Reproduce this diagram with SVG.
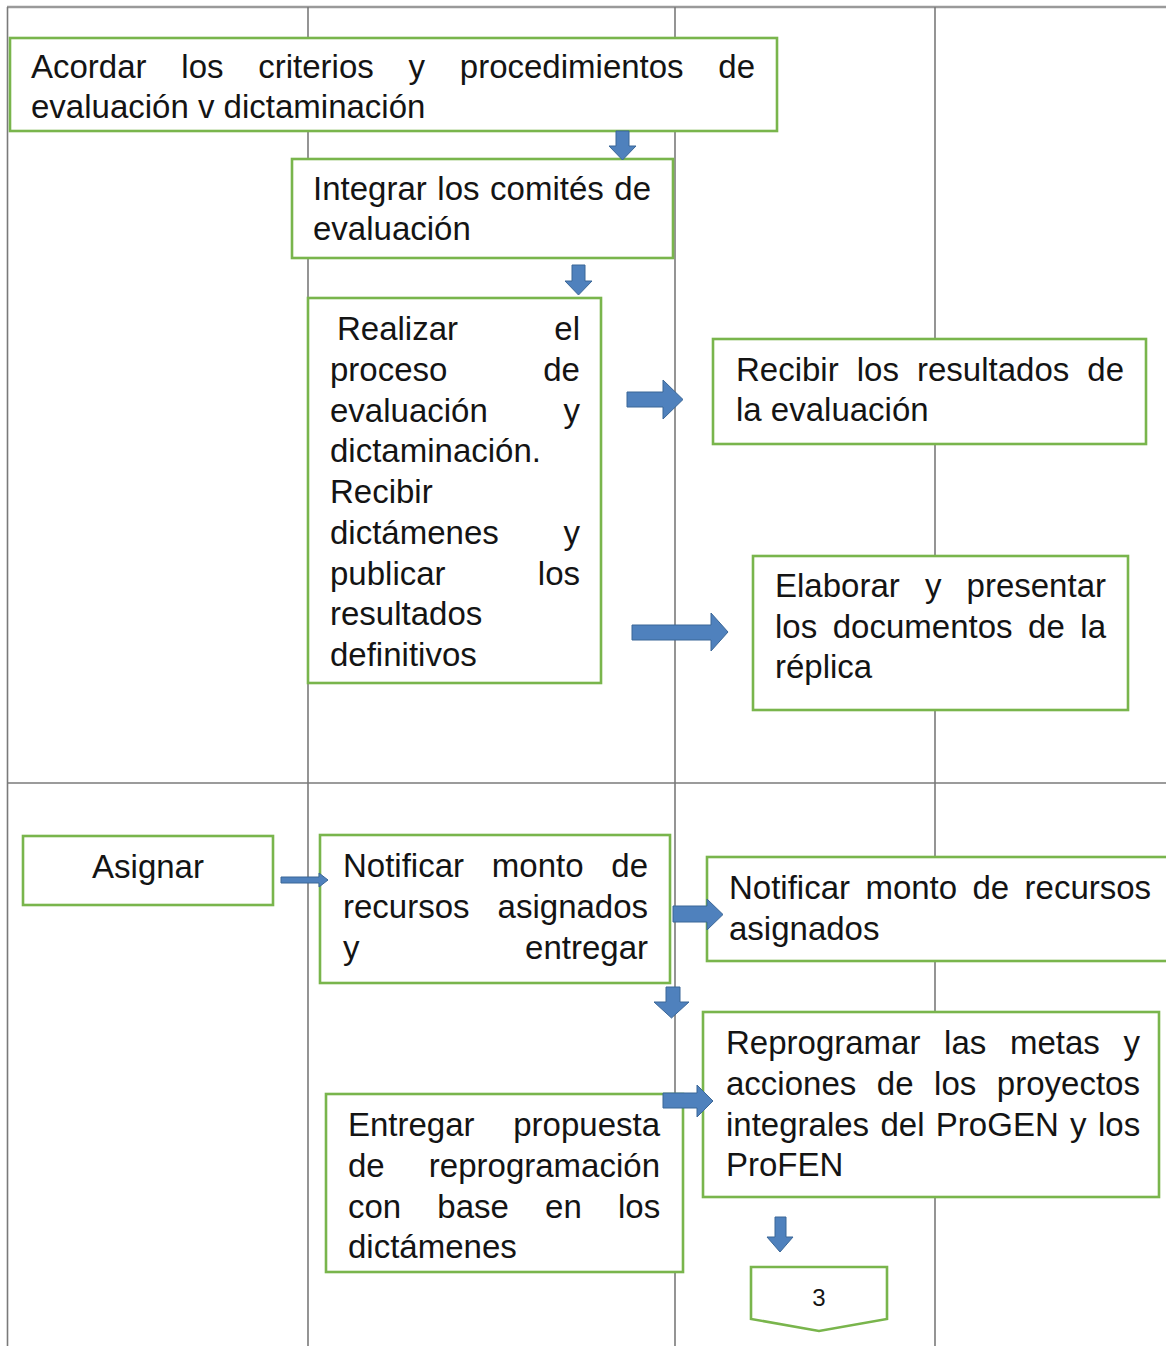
<svg xmlns="http://www.w3.org/2000/svg" width="1166" height="1346" viewBox="0 0 1166 1346">
<style>
.grid{stroke:#7a7a7a;stroke-width:1.6;fill:none}
.gtop{stroke:#9a9a9a;stroke-width:2.6;fill:none}
.box{fill:#fff;stroke:#79b54c;stroke-width:2.6}
.t{font-family:"Liberation Sans",Arial,sans-serif;font-size:33px;fill:#141414}
.arr{fill:#4f81bd;stroke:#3b6797;stroke-width:1}
</style>
<rect width="1166" height="1346" fill="#fff"/>
<g id="grid">
<line class="gtop" x1="7" y1="7" x2="1166" y2="7"/>
<line class="grid" x1="7.5" y1="7" x2="7.5" y2="1346"/>
<line class="grid" x1="308" y1="7" x2="308" y2="1346"/>
<line class="grid" x1="675" y1="7" x2="675" y2="1346"/>
<line class="grid" x1="935" y1="7" x2="935" y2="1346"/>
<line class="grid" x1="7" y1="783" x2="1166" y2="783"/>
</g>
<g id="n1">
<rect class="box" x="10" y="38" width="767" height="93"/>
<text class="t" x="31" y="78" word-spacing="25.6">Acordar los criterios y procedimientos de</text>
<text class="t" x="31" y="118">evaluación v dictaminación</text>
</g>
<g id="n2">
<rect class="box" x="292" y="159" width="381" height="99"/>
<text class="t" x="313" y="200" word-spacing="1.4">Integrar los comités de</text>
<text class="t" x="313" y="240">evaluación</text>
</g>
<g id="n3">
<rect class="box" x="308" y="298" width="293" height="385"/>
<text class="t" x="337" y="340" word-spacing="87.1">Realizar el</text>
<text class="t" x="330" y="381" word-spacing="86.7">proceso de</text>
<text class="t" x="330" y="422" word-spacing="66.6">evaluación y</text>
<text class="t" x="330" y="462">dictaminación.</text>
<text class="t" x="330" y="503">Recibir</text>
<text class="t" x="330" y="544" word-spacing="55.6">dictámenes y</text>
<text class="t" x="330" y="585" word-spacing="83.1">publicar los</text>
<text class="t" x="330" y="625">resultados</text>
<text class="t" x="330" y="666">definitivos</text>
</g>
<g id="n4">
<rect class="box" x="713" y="339" width="433" height="105"/>
<text class="t" x="736" y="381" word-spacing="8.9">Recibir los resultados de</text>
<text class="t" x="736" y="421">la evaluación</text>
</g>
<g id="n5">
<rect class="box" x="753" y="556" width="375" height="154"/>
<text class="t" x="775" y="597" word-spacing="16">Elaborar y presentar</text>
<text class="t" x="775" y="638" word-spacing="6.4">los documentos de la</text>
<text class="t" x="775" y="678">réplica</text>
</g>
<g id="n6">
<rect class="box" x="23" y="836" width="250" height="69"/>
<text class="t" x="148" y="878" text-anchor="middle">Asignar</text>
</g>
<g id="n7">
<rect class="box" x="320" y="835" width="350" height="148"/>
<text class="t" x="343" y="877" word-spacing="18.6">Notificar monto de</text>
<text class="t" x="343" y="918" word-spacing="18.9">recursos asignados</text>
<text class="t" x="343" y="959" word-spacing="156.4">y entregar</text>
</g>
<g id="n8">
<rect class="box" x="707" y="857" width="470" height="104"/>
<text class="t" x="729" y="899" word-spacing="6.2">Notificar monto de recursos</text>
<text class="t" x="729" y="940">asignados</text>
</g>
<g id="n9">
<rect class="box" x="703" y="1012" width="456" height="185"/>
<text class="t" x="726" y="1054" word-spacing="14.5">Reprogramar las metas y</text>
<text class="t" x="726" y="1095" word-spacing="11.4">acciones de los proyectos</text>
<text class="t" x="726" y="1136" word-spacing="2.2">integrales del ProGEN y los</text>
<text class="t" x="726" y="1176">ProFEN</text>
</g>
<g id="n10">
<rect class="box" x="326" y="1094" width="357" height="178"/>
<text class="t" x="348" y="1136" word-spacing="29.5">Entregar propuesta</text>
<text class="t" x="348" y="1177" word-spacing="35">de reprogramación</text>
<text class="t" x="348" y="1218" word-spacing="27">con base en los</text>
<text class="t" x="348" y="1258">dictámenes</text>
</g>
<g id="n11">
<polygon class="box" points="751,1267 887,1267 887,1319 819,1331 751,1319"/>
<text class="t" x="819" y="1306" text-anchor="middle" style="font-size:24px">3</text>
</g>
<g id="connectors">
<polygon class="arr" points="616,131 629,131 629,146 636,146 622.5,160 609,146 616,146"/>
<polygon class="arr" points="572,265 585,265 585,281 592,281 578.5,295 565,281 572,281"/>
<polygon class="arr" points="627,392 663,392 663,380 683,399.5 663,419 663,407 627,407"/>
<polygon class="arr" points="632,625 711,625 711,613 728,632 711,651 711,640 632,640"/>
<polygon class="arr" points="281,877 319,877 319,873 328,880 319,887 319,883 281,883"/>
<polygon class="arr" points="673,906 707,906 707,899 723,914.5 707,930 707,922 673,922"/>
<polygon class="arr" points="666,987 680,987 680,1002 689,1002 671.5,1018 654,1002 666,1002"/>
<polygon class="arr" points="663,1093 697,1093 697,1085 713,1101 697,1117 697,1108 663,1108"/>
<polygon class="arr" points="775,1217 786,1217 786,1237 793,1237 780,1252 767,1237 775,1237"/>
</g>
</svg>
